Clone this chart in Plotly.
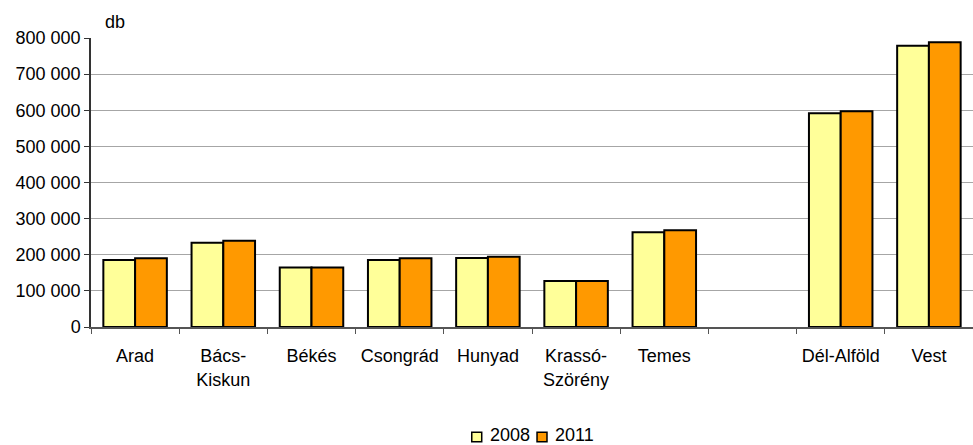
import plotly.graph_objects as go

categories = ["Arad", "Bács-<br>Kiskun", "Békés", "Csongrád", "Hunyad",
              "Krassó-<br>Szörény", "Temes", " ", "Dél-Alföld", "Vest"]
values_2008 = [185500, 233000, 165000, 185500, 191000, 127000, 262000, None, 591500, 778700]
values_2011 = [190000, 239000, 165000, 190000, 194600, 127000, 267600, None, 597000, 788000]
y_ticks = [0, 100000, 200000, 300000, 400000, 500000, 600000, 700000, 800000]
series_names = ["2008", "2011"]
series_colors = ["#FFFF99", "#FF9900"]

font = dict(family="Liberation Sans, Arial, sans-serif", size=18, color="#000000")
legend_font = dict(family="Liberation Sans, Arial, sans-serif", size=18, color="#000000")

fig = go.Figure()
for name, vals, col in zip(series_names, [values_2008, values_2011], series_colors):
    fig.add_trace(go.Bar(name=name, x=categories, y=vals, showlegend=False,
                         marker=dict(color=col, line=dict(color="#000000", width=2))))

# compact legend drawn as in the original Excel-style chart
legend_boxes = [(0.4317, 0.443), (0.5057, 0.517)]
legend_text_x = [0.450, 0.524]
shapes = []
annotations = []
for (x0, x1), tx, name, col in zip(legend_boxes, legend_text_x, series_names, series_colors):
    shapes.append(dict(type="rect", xref="paper", yref="paper", x0=x0, x1=x1, y0=-0.397, y1=-0.364,
                       fillcolor=col, line=dict(color="#000000", width=1.5)))
    annotations.append(dict(text=name, xref="paper", yref="paper", x=tx, y=-0.372,
                            xanchor="left", yanchor="middle", showarrow=False, font=legend_font))
annotations.append(dict(text="db", xref="paper", yref="paper", x=0.0136, y=1.055,
                        xanchor="left", yanchor="middle", showarrow=False, font=font))

fig.update_layout(
    width=973, height=445,
    margin=dict(l=91, r=0, t=38, b=118),
    paper_bgcolor="white", plot_bgcolor="white",
    font=font,
    separators=", ",
    barmode="group", bargap=0.28, bargroupgap=0,
    showlegend=False,
    xaxis=dict(type="category", showgrid=False, showline=True, linecolor="#555555", linewidth=1.5,
               ticks="outside", tickson="boundaries", ticklen=5, tickcolor="#555555",
               tickfont=font, ticklabelstandoff=12),
    yaxis=dict(range=[0, 800000], tickvals=y_ticks, tickformat=",d",
               showgrid=True, gridcolor="#A6A6A6", gridwidth=1,
               showline=True, linecolor="#333333", linewidth=1.5,
               ticks="outside", ticklen=5, tickcolor="#333333", tickfont=font,
               zeroline=False),
    shapes=shapes,
    annotations=annotations,
)

fig.write_html("out.html", config={"displayModeBar": False},
               post_script="document.body.style.margin='0';document.body.style.overflow='hidden';")
